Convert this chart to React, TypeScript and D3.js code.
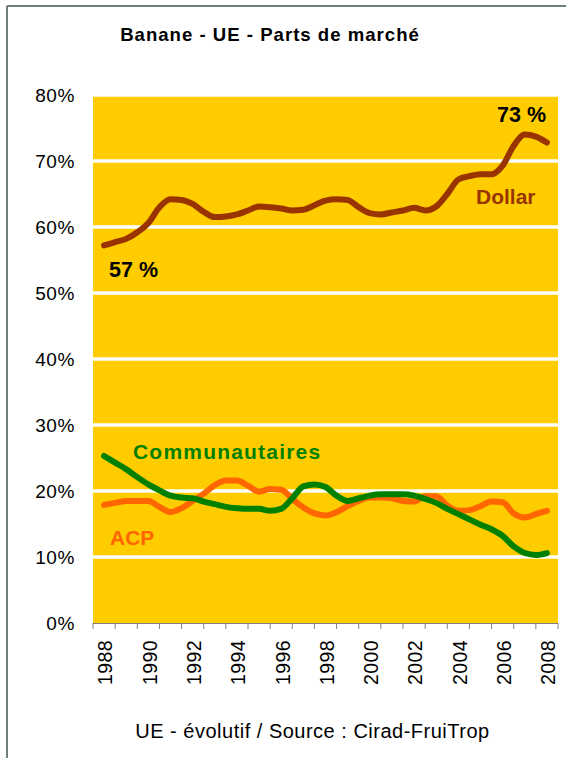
import React from "react";
import * as d3 from "d3";

const years = [1988,1989,1990,1991,1992,1993,1994,1995,1996,1997,1998,1999,2000,2001,2002,2003,2004,2005,2006,2007,2008];
const yearLabels = ["1988","1990","1992","1994","1996","1998","2000","2002","2004","2006","2008"];
const yTicks = [0,10,20,30,40,50,60,70,80];

const periods = [1988,1988.5,1989,1989.5,1990,1990.5,1991,1991.5,1992,1992.5,1993,1993.5,1994,1994.5,1995,1995.5,1996,1996.5,1997,1997.5,1998,1998.5,1999,1999.5,2000,2000.5,2001,2001.5,2002,2002.5,2003,2003.5,2004,2004.5,2005,2005.5,2006,2006.5,2007,2007.5,2008];

const dollar = [57.2,57.7,58.2,59.2,60.6,63.0,64.2,64.1,63.5,62.3,61.5,61.6,61.9,62.5,63.1,63.0,62.8,62.5,62.6,63.3,64.0,64.2,64.1,63.0,62.1,61.9,62.2,62.5,62.9,62.5,63.1,65.0,67.2,67.7,68.0,68.0,69.3,72.3,74.0,73.7,72.8];
const communautaires = [25.3,24.3,23.3,22.1,21.0,20.1,19.3,19.0,18.9,18.4,18.0,17.6,17.4,17.3,17.3,17.0,17.3,18.9,20.7,21.0,20.6,19.3,18.5,18.9,19.3,19.5,19.5,19.5,19.3,18.8,18.2,17.3,16.5,15.7,14.9,14.2,13.2,11.6,10.6,10.3,10.6];
const acp = [17.9,18.2,18.5,18.5,18.5,17.6,16.8,17.4,18.5,19.6,20.9,21.6,21.6,20.8,19.9,20.3,20.2,18.8,17.5,16.6,16.3,16.8,17.7,18.5,19.0,19.0,18.9,18.5,18.4,19.2,19.2,17.8,17.0,17.1,17.7,18.4,18.3,16.6,16.0,16.5,17.0];

const title = "Banane - UE - Parts de marché";
const footer = "UE - évolutif / Source : Cirad-FruiTrop";

const W = 566, H = 758;
const L = 93, R = 558, T = 95, B = 623;

export default function App() {
  const xBand = d3.scaleBand<number>().domain(years).range([L, R]).padding(0);
  const bw = xBand.bandwidth();
  const x = d3.scaleLinear().domain([1988, 2008]).range([L + bw / 2, R - bw / 2]);
  const y = d3.scaleLinear().domain([0, 80]).range([B, T]);
  const line = d3.line<number>()
    .x((_, i) => x(periods[i]))
    .y((d) => y(d))
    .curve(d3.curveMonotoneX);

  const font = "Arial, 'Liberation Sans', sans-serif";
  const tickPos = years.map((yr) => xBand(yr) as number).concat([R]);

  return (
    <svg width={W} height={H} style={{ position: "absolute", left: 0, top: 0, background: "#fff" }} fontFamily={font}>
      <line x1={7} y1={6} x2={W} y2={6} stroke="#6f7f7c" strokeWidth={2} />
      <line x1={7} y1={6} x2={7} y2={H} stroke="#6f7f7c" strokeWidth={2} />
      <text x={270} y={41} textAnchor="middle" fontWeight="bold" fontSize={18.6} letterSpacing={1}>{title}</text>

      <rect x={L} y={T} width={R - L} height={B - T} fill="#FFCC00" />
      {yTicks.filter((t) => t > 0).map((t) => (
        <line key={t} x1={L} x2={R} y1={y(t)} y2={y(t)} stroke="#fff" strokeWidth={3.5} />
      ))}
      <line x1={L} x2={R} y1={B + 0.5} y2={B + 0.5} stroke="#808080" strokeWidth={1} />
      {tickPos.map((p, i) => (
        <line key={i} x1={p} x2={p} y1={B} y2={B + 6} stroke="#808080" strokeWidth={1} />
      ))}
      {yTicks.map((t) => (
        <text key={t} x={75} y={y(t)} dy="0.35em" textAnchor="end" fontSize={19} letterSpacing={0.6}>{t + "%"}</text>
      ))}
      {yearLabels.map((lab) => {
        const cx = (xBand(+lab) as number) + bw / 2;
        return (
          <text key={lab} transform={`translate(${cx + 1.5},${640}) rotate(-90)`} dy="0.35em" textAnchor="end" fontSize={19.5} letterSpacing={0.4}>{lab}</text>
        );
      })}

      <path d={line(acp) || ""} fill="none" stroke="#FF6600" strokeWidth={6} strokeLinecap="round" strokeLinejoin="round" />
      <path d={line(communautaires) || ""} fill="none" stroke="#008000" strokeWidth={6} strokeLinecap="round" strokeLinejoin="round" />
      <path d={line(dollar) || ""} fill="none" stroke="#993300" strokeWidth={6} strokeLinecap="round" strokeLinejoin="round" />

      <text x={109} y={277} fontWeight="bold" fontSize={21.5} fill="#000">57 %</text>
      <text x={497} y={122} fontWeight="bold" fontSize={21.5} fill="#000">73 %</text>
      <text x={476} y={204} fontWeight="bold" fontSize={21} fill="#993300">Dollar</text>
      <text x={133} y={459} fontWeight="bold" fontSize={21} letterSpacing={1.2} fill="#008000">Communautaires</text>
      <text x={110} y={545} fontWeight="bold" fontSize={21} fill="#FF6600">ACP</text>

      <text x={312.5} y={737.5} textAnchor="middle" fontSize={20} letterSpacing={0.5}>{footer}</text>
    </svg>
  );
}
